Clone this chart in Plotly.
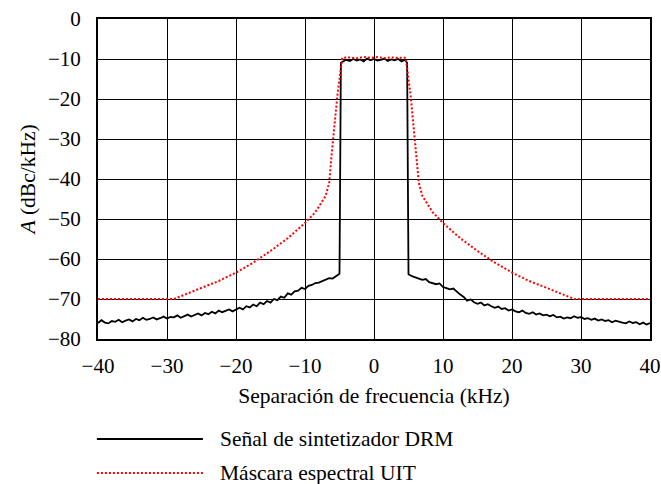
import plotly.graph_objects as go

# ---- data ----
sig_left_x = [-40 + 0.5 * i for i in range(70)]  # -40 .. -5.5
sig_left_y = [-76.0, -75.3, -75.9, -76.1, -75.5, -75.7, -75.2, -75.8, -75.4, -75.1,
              -75.6, -75.0, -75.3, -74.7, -75.2, -75.0, -74.6, -75.1, -74.8, -74.4,
              -74.9, -74.5, -74.6, -74.1, -74.7, -74.3, -73.9, -74.4, -74.0, -73.6,
              -74.1, -73.5, -73.8, -73.2, -73.6, -72.9, -73.3, -73.0, -72.6, -73.1,
              -72.7, -72.2, -72.6, -71.8, -72.1, -71.4, -71.8, -70.9, -71.3, -70.5,
              -70.9, -70.0, -70.3, -69.4, -69.7, -68.6, -68.9, -68.1, -67.9, -67.2,
              -67.5, -66.7, -66.5, -66.0, -65.9, -65.5, -65.3, -64.8, -64.9, -64.2]
sig_edge_left_x = [-5.0, -4.8]
sig_edge_left_y = [-63.7, -11.0]
sig_top_x = [-4.5 + 0.5 * i for i in range(19)]  # -4.5 .. 4.5
sig_top_y = [-10.6, -10.2, -10.5, -10.0, -10.4, -10.1, -10.6, -9.9, -10.3, -10.0,
             -10.4, -10.2, -9.9, -10.5, -10.1, -10.3, -10.0, -10.6, -10.2]
sig_edge_right_x = [4.8, 5.0]
sig_edge_right_y = [-11.0, -63.8]
sig_right_x = [5.5 + 0.5 * i for i in range(70)]  # 5.5 .. 40
sig_right_y = [-64.3, -64.7, -64.9, -65.2, -65.0, -65.8, -66.0, -66.3, -66.1, -67.0,
               -67.3, -67.6, -67.4, -68.2, -68.9, -69.5, -70.4, -70.1, -70.8, -71.2,
               -70.9, -71.6, -71.3, -71.8, -72.2, -71.9, -72.5, -72.3, -72.9, -72.6,
               -73.1, -73.3, -72.9, -73.5, -73.7, -73.3, -73.9, -73.6, -74.1, -73.9,
               -74.3, -74.0, -74.6, -74.4, -74.9, -74.6, -74.8, -74.3, -74.7, -74.5,
               -75.0, -74.8, -75.2, -74.9, -75.4, -75.1, -75.5, -75.3, -75.8, -75.4,
               -75.7, -75.9, -76.1, -75.6, -76.0, -75.8, -76.3, -75.9, -76.4, -76.0]

mask_x = [-40, -29, -27, -25, -22.5, -20, -17.5, -15, -12.5, -10, -8.5, -7, -6.5, -6.2,
          -5.8, -5.3, -4.6, -3.5, -2.5, -1.5, -0.5, 0.5, 1.5, 2.5, 3.5, 4.6,
          5.3, 5.8, 6.2, 6.5, 7, 8.5, 10, 12.5, 15, 17.5, 20, 22.5, 25, 27, 29, 40]
mask_y = [-70, -70, -68.6, -67.2, -65.5, -63.4, -60.9, -58.0, -54.8, -51.0, -48.3, -44.2, -41.0, -35.0,
          -28.0, -19.0, -9.7, -9.6, -9.8, -9.5, -9.7, -9.5, -9.8, -9.6, -9.7, -9.7,
          -19.0, -28.0, -35.0, -41.0, -44.2, -48.3, -51.0, -54.8, -58.0, -60.9, -63.4, -65.5, -67.2, -68.6, -70, -70]

x_ticks = [-40, -30, -20, -10, 0, 10, 20, 30, 40]
y_ticks = [0, -10, -20, -30, -40, -50, -60, -70, -80]

legend_names = ["Señal de sintetizador DRM", "Máscara espectral UIT"]

sig_x = sig_left_x + sig_edge_left_x + sig_top_x + sig_edge_right_x + sig_right_x
sig_y = sig_left_y + sig_edge_left_y + sig_top_y + sig_edge_right_y + sig_right_y

FONT = "Liberation Serif, Times New Roman, serif"
SIG_LINE = dict(color="black", width=1.8)
MASK_LINE = dict(color="#ff0000", width=2, dash="2px,2px")

fig = go.Figure()
fig.add_trace(go.Scatter(x=sig_x, y=sig_y, mode="lines", name=legend_names[0],
                         line=SIG_LINE, showlegend=False))
fig.add_trace(go.Scatter(x=mask_x, y=mask_y, mode="lines", name=legend_names[1],
                         line=MASK_LINE, showlegend=False))

fig.update_layout(
    width=661, height=484,
    margin=dict(l=98, r=11, t=19, b=145),
    paper_bgcolor="white", plot_bgcolor="white",
    font=dict(family=FONT, size=21, color="black"),
)
fig.update_xaxes(range=[-40, 40], tickvals=x_ticks, ticks="", showgrid=True,
                 gridcolor="black", gridwidth=1.3, zeroline=False, automargin=False,
                 showline=True, linecolor="black", linewidth=2, mirror=True,
                 ticklabelstandoff=7, tickfont=dict(size=21),
                 title=dict(text="Separación de frecuencia (kHz)", standoff=11,
                            font=dict(size=21.5)))
fig.update_yaxes(range=[-80, 0], tickvals=y_ticks, ticks="", showgrid=True,
                 gridcolor="black", gridwidth=1.3, zeroline=False, automargin=False,
                 showline=True, linecolor="black", linewidth=2, mirror=True,
                 ticklabelstandoff=11, tickfont=dict(size=21),
                 title=dict(text="<i>A</i> (dBc/kHz)", standoff=6, font=dict(size=21.5)))

# manual legend below plot
rows = [(-0.3125, SIG_LINE), (-0.419, MASK_LINE)]
for (yy, ln), name in zip(rows, legend_names):
    fig.add_shape(type="line", xref="paper", yref="paper", x0=-0.002, x1=0.190,
                  y0=yy, y1=yy, line=ln)
    fig.add_annotation(xref="paper", yref="paper", x=0.217, y=yy, text=name,
                       showarrow=False, xanchor="left", yanchor="middle",
                       font=dict(size=21.5, family=FONT))

fig.write_html("out.html")
